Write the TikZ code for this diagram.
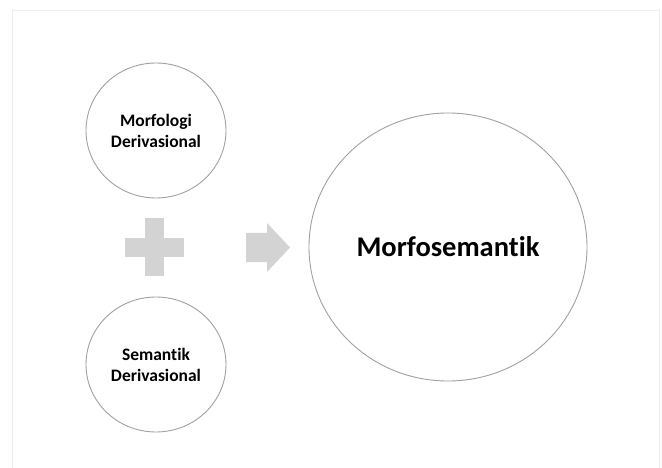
\documentclass[tikz,border=0pt]{standalone}
\usepackage{fontspec}
\setmainfont[Ligatures=NoCommon]{Carlito}
\usetikzlibrary{shapes.geometric}
\definecolor{rimgray}{HTML}{A0A0A0}
\definecolor{signgray}{HTML}{D3D3D3}
\definecolor{framegray}{HTML}{ECECEC}

\begin{document}
\begin{tikzpicture}[x=1pt,y=-1pt,
	bubble/.style={ellipse,draw=rimgray,line width=0.9pt,inner sep=0pt},
	smallbubble/.style={bubble,minimum width=140pt,minimum height=135pt,align=center,font=\bfseries\fontsize{17.5}{21}\selectfont},
	bigbubble/.style={bubble,minimum width=278pt,minimum height=268pt,font=\bfseries\fontsize{28.5}{34}\selectfont},
	sign/.style={fill=signgray}]
			\useasboundingbox (0,0) rectangle (662,468);
			\draw[framegray,line width=1pt] (12.5,480)--(12.5,10.5)--(659.5,10.5)--(659.5,480);
			\node[smallbubble] (morf) at (156,130.5) {Morfologi\\Derivasional};
			\node[smallbubble] (sem) at (156,364.5) {Semantik\\Derivasional};
			\node[bigbubble] (morfsem) at (448,247) {Morfosemantik};
			% plus sign
			\fill[sign] (145,218) rectangle (164,276);
			\fill[sign] (125,238) rectangle (184,257);
			% arrow
			\fill[sign] (246,233)--(267,233)--(267,223)--(290,247.5)--(267,272)--(267,262)--(246,262)--cycle;
			\end{tikzpicture}
\end{document}
